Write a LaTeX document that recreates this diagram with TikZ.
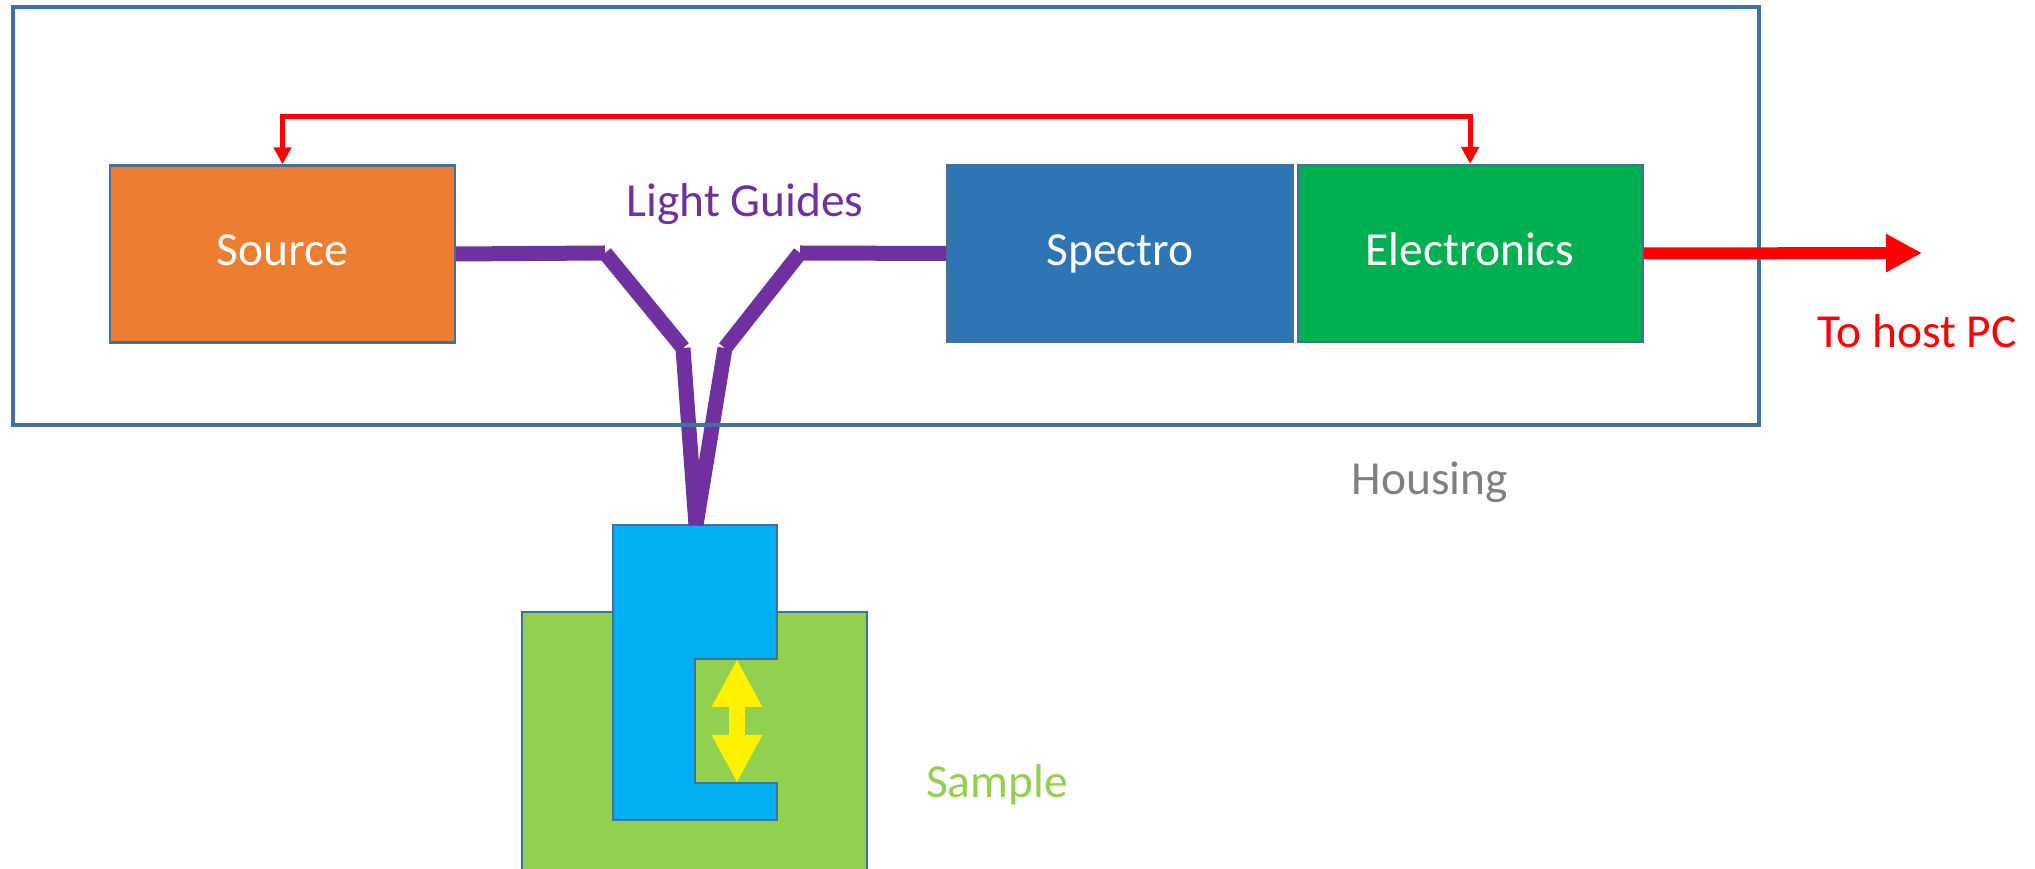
\documentclass[tikz,border=0pt]{standalone}
\usepackage{fontspec}
\setmainfont{Carlito}
\usetikzlibrary{arrows.meta, positioning}
\definecolor{edgeblue}{RGB}{65,113,156}
\definecolor{srcorange}{RGB}{237,125,49}
\definecolor{specblue}{RGB}{46,117,182}
\definecolor{elecgreen}{RGB}{0,176,80}
\definecolor{guidepurple}{RGB}{112,48,160}
\definecolor{probecyan}{RGB}{0,176,240}
\definecolor{samplegreen}{RGB}{146,208,80}
\definecolor{housegray}{RGB}{128,128,128}

\tikzset{
  unit/.style={draw=edgeblue, line width=0.6pt, minimum width=3.45cm, minimum height=1.77cm,
    inner sep=0pt, text=white, font=\fontsize{13.5}{16}\selectfont, text height=1.4ex, text depth=0pt},
  guide/.style={draw=guidepurple, line width=0.15cm},
  signal/.style={draw=red, line width=0.05cm},
  tag/.style={anchor=base, inner sep=0pt, font=\fontsize{13.5}{16}\selectfont}
}

\begin{document}
\begin{tikzpicture}[x=0.1mm, y=-0.1mm]
            \useasboundingbox (0,0) rectangle (2035,869);

            % --- Sample and probe ---
            \fill[samplegreen, draw=edgeblue, line width=0.8pt] (522,880) -- (522,612) -- (867,612) -- (867,880);
            \draw[fill=probecyan, draw=edgeblue, line width=0.8pt]
                (613,525) -- (777,525) -- (777,659) -- (695,659) -- (695,783) -- (777,783) -- (777,820) -- (613,820) -- cycle;
            \coordinate (tip) at (696,525);
            \draw[yellow, line width=0.16cm, {Triangle[length=0.48cm, width=0.47cm]}-{Triangle[length=0.48cm, width=0.47cm]}] (737,659) -- (737,783);
            \node[tag, text=samplegreen] (sample) at (997,798) {Sample};

            % --- Units inside the housing ---
            \node[unit, fill=srcorange] (source) at (282.5,254) {Source};
            \node[unit, fill=specblue] (spectro) at (1120,253.5) {Spectro};
            \node[unit, fill=elecgreen, right=0.03cm of spectro] (elec) {Electronics};

            % Light guides (Y shape), one straight piece per segment
            \coordinate (lk1) at (605,253);
            \coordinate (lk2) at (683,348);
            \coordinate (rk1) at (800,253);
            \coordinate (rk2) at (725,348);
            \draw[guide] (source.east) -- (lk1) (lk1) -- (lk2) (lk2) -- (tip);
            \draw[guide] (spectro.west) -- (rk1) (rk1) -- (rk2) (rk2) -- (tip);
            \node[tag, text=guidepurple] (guides) at (745,217) {Light Guides};

            % Housing
            \draw[draw=edgeblue, line width=0.9pt] (13,7) rectangle (1759,425);
            \node[tag, text=housegray] (housing) at (1430,495) {Housing};

            % Control link and output
            \draw[signal, {Triangle[length=0.17cm, width=0.17cm]}-{Triangle[length=0.17cm, width=0.17cm]}]
                (source.north) -- ++(0,-48) -| (elec.north);
            \coordinate (pc) at (1922,253);
            \draw[red, line width=0.12cm, -{Triangle[length=0.36cm, width=0.36cm]}] (elec.east) -- (pc);
            \node[tag, text=red] (hostpc) at (1917,348) {To host PC};
        \end{tikzpicture}
\end{document}
